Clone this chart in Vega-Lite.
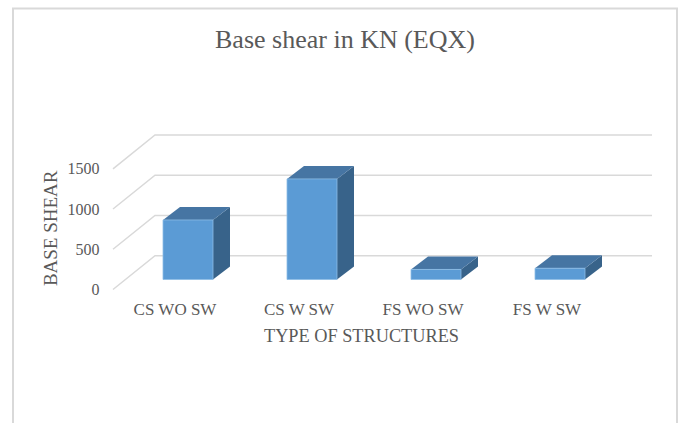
{
  "$schema": "https://vega.github.io/schema/vega-lite/v6.json",
  "width": 496,
  "height": 120.7,
  "autosize": {"type": "none"},
  "padding": {"left": 126, "top": 158.8, "right": 58, "bottom": 143.5},
  "background": "white",
  "view": {"stroke": null},
  "title": {
    "text": "Base shear in KN (EQX)",
    "font": "Liberation Serif",
    "fontSize": 26,
    "fontWeight": "normal",
    "color": "#595959",
    "anchor": "middle",
    "frame": "group",
    "dx": -29,
    "offset": -48
  },
  "datasets": {
    "bars": [
      {"structure": "CS WO SW", "shear": 740},
      {"structure": "CS W SW", "shear": 1250},
      {"structure": "FS WO SW", "shear": 125},
      {"structure": "FS W SW", "shear": 140}
    ],
    "ticks": [{"tick": 0}, {"tick": 500}, {"tick": 1000}, {"tick": 1500}]
  },
  "layer": [
    {
      "data": {"values": [{"frame": "chart area"}]},
      "mark": {"type": "point", "shape": "M-361,240 L-361,-210.6 L303,-210.6 L303,240", "size": 4, "filled": false, "stroke": "#d9d9d9", "strokeWidth": 2, "opacity": 1},
      "encoding": {}
    },
    {
      "data": {"name": "ticks"},
      "mark": {"type": "point", "shape": "M-261,10 L-219,-23.8 L278,-23.8", "size": 4, "filled": false, "stroke": "#d9d9d9", "strokeWidth": 1.5, "opacity": 1},
      "encoding": {
        "y": {
          "field": "tick",
          "type": "quantitative",
          "scale": {"domain": [0, 1500], "nice": false},
          "axis": {
            "values": [0, 500, 1000, 1500],
            "format": "d",
            "title": "BASE SHEAR",
            "titleFont": "Liberation Serif",
            "titleFontSize": 19,
            "titleFontWeight": "normal",
            "titleColor": "#595959",
            "titleX": -76,
            "titleY": 69,
            "titleAlign": "center",
            "titleBaseline": "middle",
            "titleAngle": -90,
            "labelFont": "Liberation Serif",
            "labelFontSize": 16,
            "labelColor": "#595959",
            "labelOffset": 10,
            "labelPadding": 27,
            "domain": false,
            "ticks": false,
            "grid": false
          }
        }
      }
    },
    {
      "data": {"name": "bars"},
      "layer": [
        {
          "mark": {"type": "point", "size": 4, "filled": true, "fill": "#38638a", "stroke": null, "opacity": 1},
          "encoding": {
            "shape": {
              "field": "structure",
              "type": "nominal",
              "legend": null,
              "scale": {
                "domain": ["CS WO SW", "CS W SW", "FS WO SW", "FS W SW"],
                "range": [
                  "M25,0 L42,-13 L42,46.5 L25,59.5 Z",
                  "M25,0 L42,-13 L42,87.6 L25,100.6 Z",
                  "M25,0 L42,-13 L42,-3 L25,10 Z",
                  "M25,0 L42,-13 L42,-1.7 L25,11.3 Z"
                ]
              }
            }
          }
        },
        {
          "mark": {"type": "point", "shape": "M-25,0 L25,0 L42,-13 L-8,-13 Z", "size": 4, "filled": true, "fill": "#4675a3", "stroke": null, "opacity": 1}
        },
        {
          "mark": {"type": "bar", "width": 50, "fill": "#5b9bd5", "stroke": "#8dbce6", "strokeWidth": 0.8},
          "encoding": {"y2": {"datum": 0}}
        }
      ],
      "encoding": {
        "x": {
          "field": "structure",
          "type": "nominal",
          "sort": null,
          "scale": {"type": "band", "paddingInner": 0, "paddingOuter": 0, "domain": ["CS WO SW", "CS W SW", "FS WO SW", "FS W SW"]},
          "axis": {
            "title": "TYPE OF STRUCTURES",
            "titleFont": "Liberation Serif",
            "titleFontSize": 18.3,
            "titleFontWeight": "normal",
            "titleColor": "#595959",
            "titleX": 235,
            "titleY": 57,
            "titleBaseline": "middle",
            "labelFont": "Liberation Serif",
            "labelFontSize": 17,
            "labelColor": "#595959",
            "labelAngle": 0,
            "labelOffset": -13,
            "labelPadding": 22,
            "domain": false,
            "ticks": false,
            "grid": false
          }
        },
        "y": {"field": "shear", "type": "quantitative"}
      }
    }
  ]
}
